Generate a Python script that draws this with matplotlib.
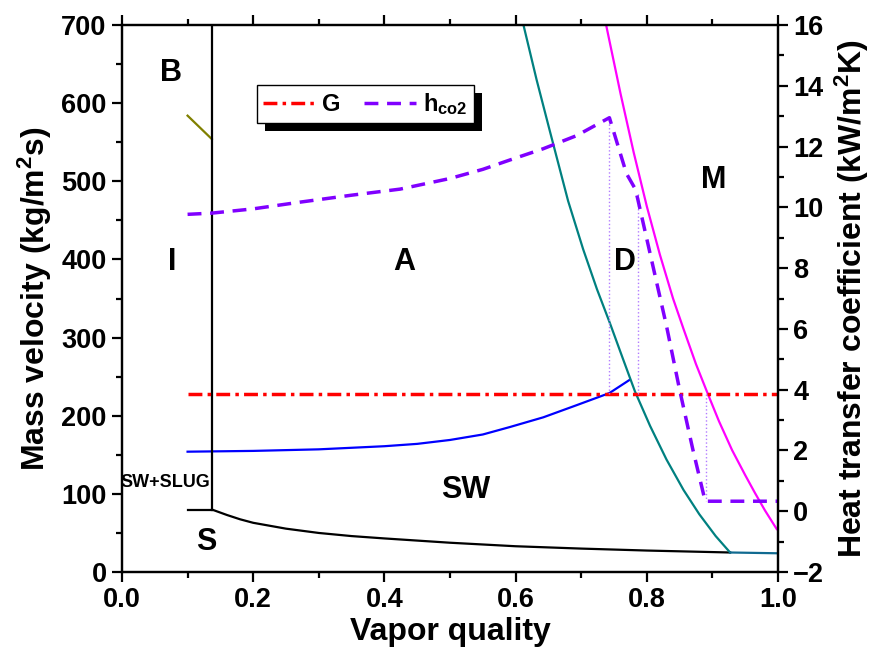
import matplotlib
matplotlib.use("Agg")
import matplotlib.pyplot as plt
from matplotlib.patches import Rectangle
from matplotlib.ticker import MultipleLocator
import numpy as np

plt.rcParams['font.family'] = ['Liberation Sans', 'DejaVu Sans']
plt.rcParams['font.weight'] = 'bold'
plt.rcParams['mathtext.fontset'] = 'custom'
plt.rcParams['mathtext.rm'] = 'Liberation Sans:bold'
plt.rcParams['mathtext.it'] = 'Liberation Sans:bold'
plt.rcParams['mathtext.bf'] = 'Liberation Sans:bold'

# flow pattern transition lines (mass velocity, kg/m2s)
x_strat = [0.137, 0.16, 0.18, 0.2, 0.25, 0.3, 0.35, 0.4, 0.5, 0.6, 0.7, 0.8, 0.927]
g_strat = [80, 73, 67.5, 63, 55.5, 50, 46, 43, 37.5, 33, 30, 27.5, 25]

x_wavy = [0.1, 0.2, 0.3, 0.4, 0.45, 0.5, 0.55, 0.5915, 0.6423, 0.693, 0.743, 0.774]
g_wavy = [154, 155, 157, 161, 164, 169, 176, 185.6, 198, 213.5, 229, 246]

x_dry = [0.612, 0.632, 0.652, 0.68, 0.703, 0.724, 0.744, 0.764, 0.782,
         0.805, 0.83, 0.856, 0.88, 0.905, 0.927]
g_dry = [700, 630, 565, 475, 413, 362, 318, 272, 231, 187, 144, 105, 74, 46, 25]
x_dry_end = [0.927, 1.0]
g_dry_end = [25, 24]

x_mist = [0.738, 0.76, 0.78, 0.8, 0.82, 0.84, 0.856, 0.875, 0.893,
          0.91, 0.93, 0.95, 0.965, 0.98, 0.998]
g_mist = [700, 612, 537, 468, 406, 350, 311, 266, 228, 193, 156, 124, 101, 79, 55]

x_bubbly = [0.1, 0.137]
g_bubbly = [584, 554]

x_ia = 0.137
g_ia = [80, 700]
x_slug = [0.1, 0.137]
g_slug = [80, 80]

x_G = [0.1, 1.0]
G_val = [228, 228]

# heat transfer coefficient (kW/m2K)
x_h = [0.1, 0.137, 0.2, 0.271, 0.35, 0.424, 0.5, 0.55, 0.5915, 0.6423, 0.693, 0.743,
       0.769, 0.782, 0.7855, 0.83, 0.85, 0.87, 0.889, 1.0]
h_co2 = [9.77, 9.81, 9.95, 10.17, 10.4, 10.6, 10.95, 11.25, 11.56, 11.93, 12.36, 12.95,
         11.11, 10.62, 10.34, 6.1, 4.0, 2.05, 0.33, 0.33]

# transition markers (x, h top)
x_mark = [0.743, 0.786, 0.89]
h_mark_top = [12.95, 10.5, 0.33]
h_mark_bottom = 3.86

regions = ['B', 'I', 'A', 'D', 'M', 'SW', 'S']
reg_x = [0.075, 0.076, 0.43, 0.767, 0.902, 0.524, 0.128]
reg_g = [639, 397, 397, 397, 502, 105, 38]

fig = plt.figure(figsize=(8.8, 6.65), dpi=100)
ax = fig.add_axes([0.1386, 0.1398, 0.7455, 0.8226])
ax2 = ax.twinx()

ax.plot(x_strat, g_strat, color='black', lw=1.6)
ax.plot(x_wavy, g_wavy, color='#0000ff', lw=1.6)
ax.plot(x_dry, g_dry, color='#008080', lw=1.6)
ax.plot(x_dry_end, g_dry_end, color='#106a90', lw=1.6)
ax.plot(x_mist, g_mist, color='#ff00ff', lw=1.6)
ax.plot(x_bubbly, g_bubbly, color='#808000', lw=1.6)
ax.plot([x_ia, x_ia], g_ia, color='black', lw=1.6)
ax.plot(x_slug, g_slug, color='black', lw=1.6)
lG, = ax.plot(x_G, G_val, color='#ff0000', lw=2.5, dashes=(4, 1.5, 1, 1.5), label='G')

for xm, ht in zip(x_mark, h_mark_top):
    ax2.plot([xm, xm], [h_mark_bottom, ht], color='#b27cff', lw=1, ls=':')
lh, = ax2.plot(x_h, h_co2, color='#8000ff', lw=2.5, dashes=(4, 2.5), label='h')

for t, xx, yy in zip(regions, reg_x, reg_g):
    ax.text(xx, yy, t, fontsize=22, fontweight='bold', ha='center', va='center')
ax.text(0.066, 114, 'SW+SLUG', fontsize=13, fontweight='bold', ha='center', va='center')

ax.set_xlim(0, 1.0)
ax.set_ylim(0, 700)
ax2.set_ylim(-2, 16)
ax.xaxis.set_major_locator(MultipleLocator(0.2))
ax.xaxis.set_minor_locator(MultipleLocator(0.1))
ax.yaxis.set_major_locator(MultipleLocator(100))
ax.yaxis.set_minor_locator(MultipleLocator(50))
ax2.yaxis.set_major_locator(MultipleLocator(2))
ax2.yaxis.set_minor_locator(MultipleLocator(1))
ax.set_xticks(np.arange(0, 1.01, 0.2))
ax.set_xticklabels(['0.0', '0.2', '0.4', '0.6', '0.8', '1.0'])

for a in (ax, ax2):
    for s in a.spines.values():
        s.set_linewidth(1.6)
ax.tick_params(which='major', direction='out', length=7, width=1.6, labelsize=19.5, pad=4)
ax.tick_params(which='minor', direction='out', length=4, width=1.6)
ax.tick_params(axis='x', top=True, which='both')
ax2.tick_params(which='major', direction='out', length=7, width=1.6, labelsize=19.5, pad=4)
ax2.tick_params(which='minor', direction='out', length=4, width=1.6)

ax.set_xlabel('Vapor quality', fontsize=23, fontweight='bold', labelpad=3)
ax.set_ylabel(r'Mass velocity (kg/m$^{\mathregular{2}}$s)', fontsize=23, fontweight='bold', labelpad=5)
ax2.set_ylabel(r'Heat transfer coefficient (kW/m$^{\mathregular{2}}$K)', fontsize=23,
               fontweight='bold', labelpad=6)

leg = ax2.legend([lG, lh], ['G', r'h$_{\mathregular{co2}}$'], loc='upper left',
                 bbox_to_anchor=(0.206, 0.890), borderaxespad=0, ncol=2,
                 fancybox=False, edgecolor='black', framealpha=1,
                 prop={'size': 17, 'weight': 'bold'}, handlelength=2.2,
                 handletextpad=0.3, columnspacing=1.0, borderpad=0.25)
leg.get_frame().set_linewidth(1.0)
leg.set_zorder(10)

fig.canvas.draw()
bb = leg.get_window_extent()
shadow = Rectangle((bb.x0 + 8, bb.y0 - 8), bb.width, bb.height, transform=None,
                   facecolor='black', edgecolor='none', zorder=9)
ax2.add_artist(shadow)

fig.savefig('out.png', dpi=100)
